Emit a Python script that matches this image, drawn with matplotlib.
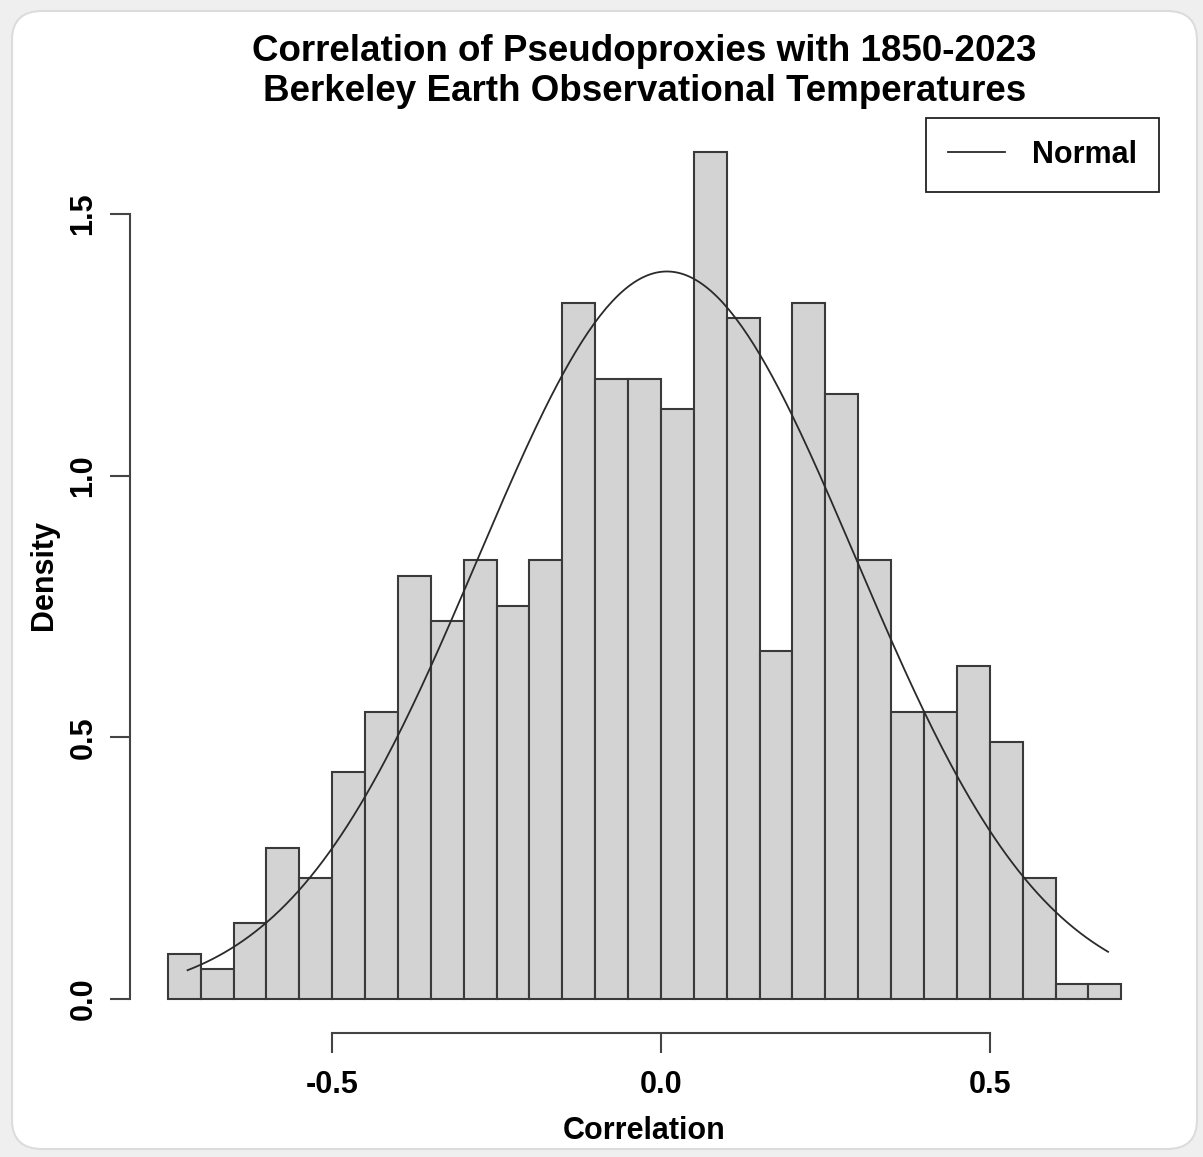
import numpy as np
import matplotlib.pyplot as plt
from matplotlib.patches import FancyBboxPatch

plt.rcParams['font.family'] = ['Liberation Sans', 'DejaVu Sans']
plt.rcParams['font.weight'] = 'bold'

# Histogram of correlations (bin width 0.05)
bin_edges = np.round(np.arange(-0.75, 0.7001, 0.05), 2)
counts = [3, 2, 5, 10, 8, 15, 19, 28, 25, 29, 26, 29, 46, 41, 41,
          39, 56, 45, 23, 46, 40, 29, 19, 19, 22, 17, 8, 1, 1]
# fitted normal
mu = 0.009
sigma = 0.287
curve_range = (-0.72, 0.68)

counts = np.array(counts)
widths = np.diff(bin_edges)
density = counts / (counts.sum() * widths)

fig = plt.figure(figsize=(12.03, 11.57), dpi=100)
fig.patch.set_facecolor('#efefef')
frame = FancyBboxPatch((12 / 1203, 8 / 1157), 1185 / 1203, 1138 / 1157,
                       boxstyle='round,pad=0,rounding_size=0.025',
                       transform=fig.transFigure, facecolor='white',
                       edgecolor='#dcdcdc', linewidth=1.5, zorder=-10)
fig.add_artist(frame)

ax = fig.add_axes([129.7 / 1203, 1 - 1033 / 1157, 1029.7 / 1203, 915 / 1157])
ax.set_facecolor('none')
ax.set_zorder(5)

ax.bar(bin_edges[:-1], density, width=widths, align='edge',
       color='#d3d3d3', edgecolor='#3a3a3a', linewidth=1.5)

xs = np.linspace(curve_range[0], curve_range[1], 300)
ys = np.exp(-0.5 * ((xs - mu) / sigma) ** 2) / (sigma * np.sqrt(2 * np.pi))
ax.plot(xs, ys, color='#2a2a2a', linewidth=1.3, label='Normal')

# R style axis limits (4% extension)
xr = bin_edges[-1] - bin_edges[0]
ax.set_xlim(bin_edges[0] - 0.04 * xr, bin_edges[-1] + 0.04 * xr)
ymax = density.max()
ax.set_ylim(-0.04 * ymax, ymax * 1.04)

for side in ['top', 'right']:
    ax.spines[side].set_visible(False)
for side in ['left', 'bottom']:
    ax.spines[side].set_color('#444444')
    ax.spines[side].set_linewidth(1.5)
ax.spines['left'].set_bounds(0, 1.5)
ax.spines['bottom'].set_bounds(-0.5, 0.5)

ax.set_xticks([-0.5, 0.0, 0.5])
ax.set_xticklabels(['-0.5', '0.0', '0.5'])
ax.set_yticks([0.0, 0.5, 1.0, 1.5])
ax.set_yticklabels(['0.0', '0.5', '1.0', '1.5'], rotation=90, va='center')
ax.tick_params(axis='both', length=14.4, width=1.5, color='#444444',
               labelsize=22)
ax.tick_params(axis='x', pad=12)
ax.tick_params(axis='y', pad=8)

ax.set_xlabel('Correlation', fontsize=22, fontweight='bold', labelpad=12)
ax.set_ylabel('Density', fontsize=22, fontweight='bold', labelpad=7)
ax.set_title('Correlation of Pseudoproxies with 1850-2023\n'
             'Berkeley Earth Observational Temperatures',
             fontsize=26.5, fontweight='bold', pad=12, linespacing=1.2, x=0.5)

leg = ax.legend(loc='upper right', borderaxespad=0, fancybox=False,
                edgecolor='#222222', fontsize=22, handlelength=1.85,
                handletextpad=0.9, borderpad=0.72, framealpha=1)
leg.get_frame().set_linewidth(1.3)

fig.savefig('out.png', dpi=100, facecolor=fig.get_facecolor())
